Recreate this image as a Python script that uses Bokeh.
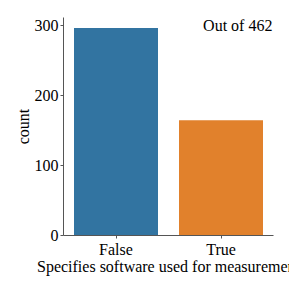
from bokeh.plotting import figure
from bokeh.models import ColumnDataSource, Range1d, Label, FixedTicker
from bokeh.embed import file_html
from bokeh.resources import INLINE

categories = ["False", "True"]
counts = [297, 165]
colors = ["#3274a1", "#e1812c"]
total_label = "Out of 462"
y_ticks = [0, 100, 200, 300]

FONT = "Liberation Serif"

src = ColumnDataSource(data=dict(cat=categories, count=counts, color=colors))

p = figure(x_range=categories, y_range=Range1d(0, max(counts) * 1.05),
           width=289, height=289, output_backend="svg", toolbar_location=None,
           min_border_left=63, min_border_right=16, min_border_top=17, min_border_bottom=54)
p.x_range.range_padding = 0
p.vbar(x="cat", top="count", width=0.8, color="color", source=src, line_color=None)

p.grid.visible = False
p.outline_line_color = None
p.background_fill_color = "white"
p.border_fill_color = "white"

for ax in (p.xaxis[0], p.yaxis[0]):
    ax.axis_line_color = "#555555"
    ax.axis_line_width = 1
    ax.major_tick_line_color = "#555555"
    ax.major_tick_out = 3
    ax.major_tick_in = 0
    ax.minor_tick_line_color = None
    ax.major_label_text_font = FONT
    ax.major_label_text_font_size = "16px"
    ax.major_label_text_color = "black"
    ax.axis_label_text_font = FONT
    ax.axis_label_text_font_size = "16px"
    ax.axis_label_text_font_style = "normal"
    ax.axis_label_text_color = "black"

p.yaxis.ticker = FixedTicker(ticks=y_ticks)
p.xaxis.axis_label = "Specifies software used for measurement"
p.yaxis.axis_label = "count"
p.xaxis.major_label_standoff = 2
p.xaxis.axis_label_standoff = -3
p.yaxis.major_label_standoff = 2
p.yaxis.axis_label_standoff = 0

lbl = Label(x=1.99, y=301, text=total_label, text_align="right", text_baseline="alphabetic",
            text_font=FONT, text_font_size="16px", text_color="black")
p.add_layout(lbl)

open("out.html", "w").write(file_html(p, INLINE))
